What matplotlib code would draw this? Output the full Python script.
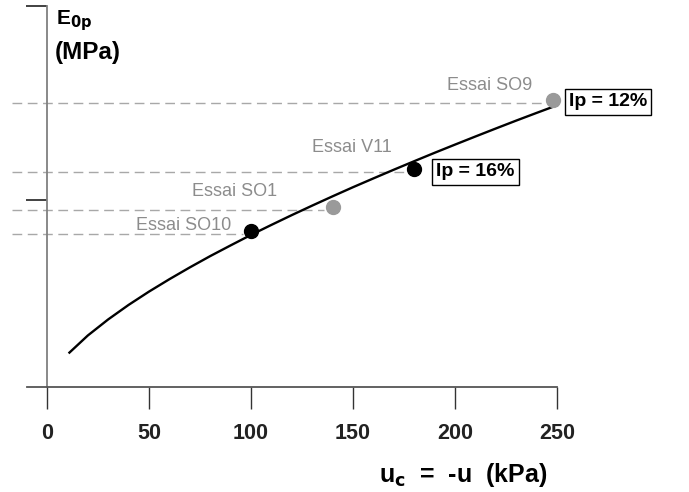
import matplotlib
matplotlib.use("Agg")
import matplotlib.pyplot as plt

plt.rcParams['font.family'] = ['Liberation Sans', 'DejaVu Sans']

# Fitted curve E0p vs uc (arbitrary E units, no y tick labels in original)
curve_x = [11, 20, 30, 40, 50, 60, 70, 80, 90, 100, 110, 120, 130, 140, 150,
           160, 170, 180, 190, 200, 210, 220, 230, 240, 250]
curve_y = [34.4, 51.5, 67.6, 82.1, 95.4, 107.8, 119.6, 130.9, 141.6, 152.1,
           162.1, 171.9, 181.4, 190.7, 199.8, 208.6, 217.3, 225.8, 234.2,
           242.4, 250.5, 258.5, 266.4, 274.1, 281.7]

# Test points
tests = ["Essai SO10", "Essai SO1", "Essai V11", "Essai SO9"]
test_x = [100, 140, 180, 248]
test_y = [156, 180, 218, 287]
test_color = ["black", "#9a9a9a", "black", "#9a9a9a"]

# Label positions for tests
label_x = [67, 92, 149.5, 217]
label_y = [161, 195, 240, 302]

ip_labels = ["Ip = 16%", "Ip = 12%"]
ip_x = [210, 275]
ip_y = [215, 285]

xticks = [0, 50, 100, 150, 200, 250]
yticks = [187, 381]

fig = plt.figure(figsize=(6.89, 4.92), dpi=100)
ax = fig.add_axes([0, 0, 1, 1])
ax.set_xlim(-23.04, 314.7)
ax.set_ylim(-105, 387)
ax.patch.set_visible(False)

for s in ["top", "right"]:
    ax.spines[s].set_visible(False)
ax.spines["left"].set_position(("data", 0))
ax.spines["bottom"].set_position(("data", 0))
ax.spines["left"].set_bounds(0, 381)
ax.spines["bottom"].set_bounds(-10, 250)
ax.spines["left"].set_color("#808080")
ax.spines["bottom"].set_color("#555555")
ax.spines["left"].set_linewidth(1.3)
ax.spines["bottom"].set_linewidth(1.3)

ax.set_xticks(xticks)
ax.set_xticklabels([str(t) for t in xticks], fontsize=15.5, fontweight="bold",
                   color="#222222")
ax.tick_params(axis="x", direction="out", length=16, width=1.0,
               color="#333333", pad=10)
ax.set_yticks(yticks)
ax.set_yticklabels([])
ax.tick_params(axis="y", direction="out", length=15, width=1.3,
               color="#333333")

# dashed guide lines
for tx, ty in zip(test_x, test_y):
    ax.plot([-17, tx - 4], [ty - 3, ty - 3], ls=(0, (7, 4)), color="#a8a8a8",
            lw=1.0, zorder=1)

# curve
ax.plot(curve_x, curve_y, color="black", lw=1.7, zorder=3)

# points
for tx, ty, c in zip(test_x, test_y, test_color):
    ax.plot(tx, ty, "o", color=c, markersize=10, zorder=4)

for name, lx, ly in zip(tests, label_x, label_y):
    ax.text(lx, ly, name, ha="center", va="center", fontsize=13,
            color="#8c8c8c")

for t, x, y in zip(ip_labels, ip_x, ip_y):
    ax.text(x, y, t, ha="center", va="center", fontsize=14,
            fontweight="bold", color="black",
            bbox=dict(boxstyle="square,pad=0.22", fc="white", ec="black",
                      lw=1.0))

ax.text(4.5, 366, r"E$_{\mathbf{0p}}$", ha="left", va="center", fontsize=15,
        fontweight="bold")
ax.text(4.0, 335, "(MPa)", ha="left", va="center", fontsize=17.5,
        fontweight="bold")
ax.text(204, -88, r"u$_{\mathbf{c}}$  =  -u  (kPa)", ha="center", va="center",
        fontsize=18, fontweight="bold")

fig.savefig("out.png", dpi=100)
